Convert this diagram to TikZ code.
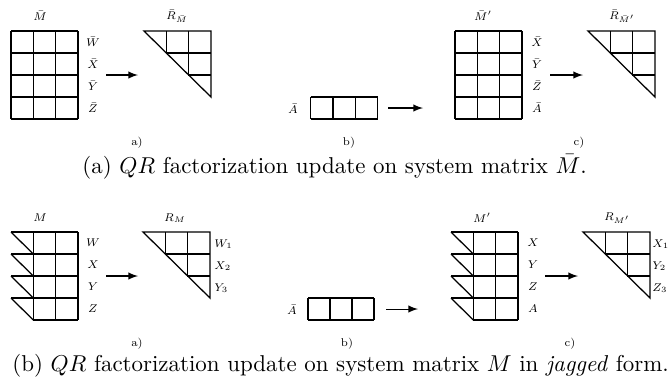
\documentclass[tikz,border=0pt]{standalone}
\usepackage{tikz}
\tikzstyle{box}=[draw, line width=0.55pt]
\tikzstyle{edge}=[draw, -latex, line width=0.45pt]
\tikzstyle{lbl}=[font=\scriptsize, inner sep=0pt, scale=0.7, transform shape]
\tikzstyle{captext}=[font=\normalsize, inner sep=0pt, anchor=base west]

\begin{document}
\begin{tikzpicture}[x=0.436pt, y=-0.436pt]
  \useasboundingbox (0,0) rectangle (668,383);

  % (a) full matrices and their triangular factors
  \foreach \x in {11,455} {
      \foreach \i in {0,...,3}
          \draw[box] (\x+\i*22.3,31) -- (\x+\i*22.3,119);
      \foreach \j in {0,...,4}
          \draw[box] (\x,31+\j*22) -- (\x+67,31+\j*22);
      \draw[box] (\x+133,31) -- (\x+200,31) -- (\x+200,97) -- cycle;
      \draw[box] (\x+155.3,31) -- (\x+155.3,53) -- (\x+200,53);
      \draw[box] (\x+177.7,31) -- (\x+177.7,75) -- (\x+200,75);
  }
  % new row
  \foreach \i in {0,...,3}
      \draw[box] (310.7+\i*22.3,97) -- (310.7+\i*22.3,119);
  \foreach \j in {0,1}
      \draw[box] (310.7,97+\j*22) -- (377.7,97+\j*22);

  \node[lbl] (Mbar)   at (40,16)  {$\bar M$};
  \node[lbl] (RMbar)  at (177,16) {$\bar R_{\bar M}$};
  \node[lbl] (Mbarp)  at (483,16) {$\bar M'$};
  \node[lbl] (RMbarp) at (622,16) {$\bar R_{\bar M'}$};
  \foreach \name/\y in {W/42, X/64, Y/86, Z/108}
      \node[lbl] (bar\name) at (93,\y) {$\bar \name$};
  \foreach \name/\y in {X/42, Y/64, Z/86, A/108}
      \node[lbl] (barp\name) at (537,\y) {$\bar \name$};
  \node[lbl] (Abar) at (293,109) {$\bar A$};

  \coordinate (a_from) at (106,75);   \coordinate (a_to) at (138,75);
  \coordinate (b_from) at (388,108);  \coordinate (b_to) at (423,108);
  \coordinate (c_from) at (550,75);   \coordinate (c_to) at (583,75);
  \foreach \s in {a,b,c}
      \path[edge] (\s_from) -- (\s_to);

  \node[lbl] (sub_a) at (137,143) {a)};
  \node[lbl] (sub_b) at (349,143) {b)};
  \node[lbl] (sub_c) at (579,143) {c)};
  \node[captext] (cap_a) at (82,173)
      {(a) $QR$ factorization update on system matrix $\bar M$.};

  % (b) jagged matrices and their triangular factors
  \foreach \x in {11,451} {
      \foreach \j in {0,...,3} {
          \draw[box] (\x,232+\j*22) -- (\x+67,232+\j*22);
          \draw[box] (\x,232+\j*22) -- (\x+22.3,254+\j*22);
      }
      \foreach \i in {1,2,3}
          \draw[box] (\x+\i*22.3,232) -- (\x+\i*22.3,320);
      \draw[box] (\x+22.3,320) -- (\x+67,320);
      \draw[box] (\x+132,232) -- (\x+199,232) -- (\x+199,298) -- cycle;
      \draw[box] (\x+154.3,232) -- (\x+154.3,254) -- (\x+199,254);
      \draw[box] (\x+176.7,232) -- (\x+176.7,276) -- (\x+199,276);
  }
  \foreach \i in {0,...,3}
      \draw[box] (308+\i*22,298) -- (308+\i*22,320);
  \foreach \j in {0,1}
      \draw[box] (308,298+\j*22) -- (374,298+\j*22);

  \node[lbl] (M)   at (40,218)  {$M$};
  \node[lbl] (RM)  at (175,218) {$R_M$};
  \node[lbl] (Mp)  at (482,218) {$M'$};
  \node[lbl] (RMp) at (617,218) {$R_{M'}$};
  \foreach \name/\y in {W/243, X/265, Y/287, Z/309}
      \node[lbl] (j\name) at (93,\y) {$\name$};
  \foreach \name/\y in {X/243, Y/265, Z/287, A/309}
      \node[lbl] (jp\name) at (533,\y) {$\name$};
  \foreach \name/\y in {W_1/244, X_2/266, Y_3/288}
      \node[lbl, anchor=west] at (214,\y) {$\name$};
  \foreach \name/\y in {X_1/244, Y_2/266, Z_3/288}
      \node[lbl, anchor=west] at (652,\y) {$\name$};
  \node[lbl] (A) at (292,310) {$\bar A$};

  \coordinate (d_from) at (106,276);  \coordinate (d_to) at (138,276);
  \coordinate (e_from) at (386,309);  \coordinate (e_to) at (418,309);
  \coordinate (f_from) at (545,276);  \coordinate (f_to) at (578,276);
  \foreach \s in {d,e,f}
      \path[edge] (\s_from) -- (\s_to);

  \node[lbl] (sub_d) at (137,344) {a)};
  \node[lbl] (sub_e) at (347,344) {b)};
  \node[lbl] (sub_f) at (570,344) {c)};
  \node[captext] (cap_b) at (12,371)
      {(b) $QR$ factorization update on system matrix $M$ in \emph{jagged} form.};
\end{tikzpicture}
\end{document}
